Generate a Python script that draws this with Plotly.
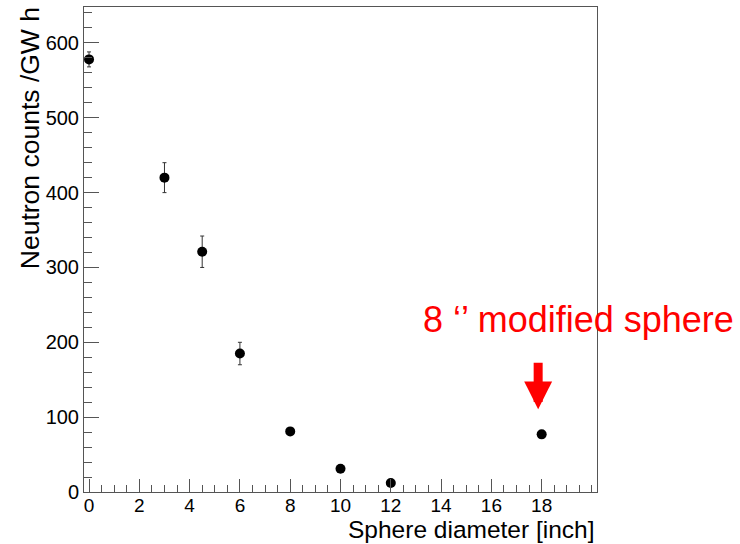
import plotly.graph_objects as go

diameters = [0, 3, 4.5, 6, 8, 10, 12, 18]
counts = [578, 420, 321, 185, 81, 31, 12, 77]
errors = [10, 20, 21, 15, 3, 2, 1, 3]
x_tick_vals = [0, 2, 4, 6, 8, 10, 12, 14, 16, 18]
y_tick_vals = [0, 100, 200, 300, 400, 500, 600]

FONT = "Liberation Sans, Arial, Helvetica, sans-serif"
AXCOL = "#555555"

fig = go.Figure()
fig.add_trace(go.Scatter(
    x=diameters, y=counts, mode="markers",
    marker=dict(color="black", size=10, symbol="circle"),
    error_y=dict(type="data", array=errors, visible=True,
                 color="#333333", thickness=1, width=2),
    showlegend=False,
))

axis_common = dict(
    showgrid=False, zeroline=False, showline=True, linecolor=AXCOL,
    linewidth=1, mirror=True, ticks="inside", tickcolor=AXCOL,
)
fig.update_xaxes(
    range=[-0.2, 20.2], tickmode="array", tickvals=x_tick_vals,
    ticklen=13, tickwidth=1, ticklabelstandoff=-4,
    tickfont=dict(family=FONT, size=19, color="black"),
    minor=dict(dtick=0.5, tick0=0, ticks="inside", ticklen=7, tickcolor=AXCOL),
    **axis_common,
)
fig.update_yaxes(
    range=[0, 648], tickmode="array", tickvals=y_tick_vals,
    ticklen=15, tickwidth=1,
    tickfont=dict(family=FONT, size=20, color="black"),
    minor=dict(dtick=20, tick0=0, ticks="inside", ticklen=8, tickcolor=AXCOL),
    **axis_common,
)

fig.add_annotation(
    text="Sphere diameter [inch]", xref="paper", yref="paper",
    x=1.0, y=-0.078, xanchor="right", yanchor="middle", showarrow=False,
    font=dict(family=FONT, size=24.5, color="black"),
)
fig.add_annotation(
    text="Neutron counts /GW h", xref="paper", yref="paper",
    x=-0.105, y=1.004, xanchor="center", yanchor="top", textangle=-90,
    showarrow=False, font=dict(family=FONT, size=26.5, color="black"),
)
fig.add_annotation(
    text="8 \u2018\u2019 modified sphere", xref="paper", yref="paper",
    x=(578 - 84) / 513, y=(492 - 320) / 485, xanchor="center", yanchor="middle",
    showarrow=False, font=dict(family=FONT, size=36, color="#ff0000"),
)
fig.add_annotation(
    text="", x=17.86, y=110.5, xref="x", yref="y",
    showarrow=True, ax=0, ay=-48, axref="pixel", ayref="pixel",
    arrowhead=2, arrowwidth=9, arrowsize=0.62, arrowcolor="#ff0000",
)

fig.update_layout(
    width=740, height=544,
    margin=dict(l=84, r=143, t=7, b=52),
    paper_bgcolor="white", plot_bgcolor="white",
)

fig.write_html("out.html")
